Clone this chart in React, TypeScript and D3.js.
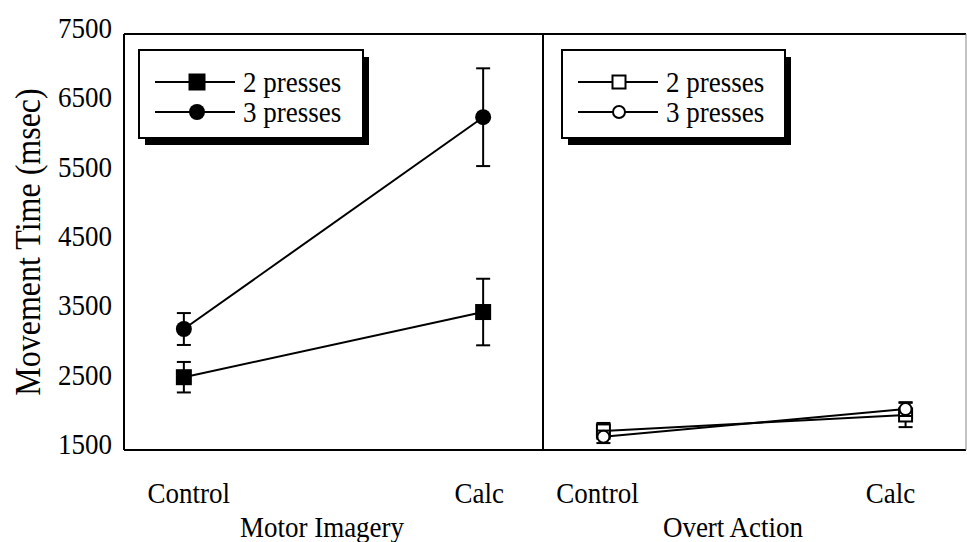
import React from "react";
import * as d3 from "d3";

const categories = ["Control", "Calc"];
const panels = ["Motor Imagery", "Overt Action"];
const seriesNames = ["2 presses", "3 presses"];
const imagery2 = [2550, 3490];
const imagery2Err = [220, 480];
const imagery3 = [3245, 6300];
const imagery3Err = [230, 705];
const overt2 = [1775, 2005];
const overt2Err = [115, 175];
const overt3 = [1690, 2090];
const overt3Err = [90, 100];
const yTicks = [1500, 2500, 3500, 4500, 5500, 6500, 7500];

const W = 967, H = 542;
const left = 124, mid = 543, right = 966, top = 34, bottom = 450;
const FONT = "'Liberation Serif', 'Times New Roman', serif";
const catLabelDx = [[5, -4], [-6, -15]];
const STRETCH = 1.1;

function T(props: { x: number; y: number; size: number; anchor?: string; baseline?: string; rotate?: number; children: any }) {
  const { x, y, size, anchor = "start", baseline, rotate = 0, children } = props;
  return (
    <text transform={`translate(${x},${y}) rotate(${rotate}) scale(1,${STRETCH})`} fontSize={size}
      textAnchor={anchor} dominantBaseline={baseline}>{children}</text>
  );
}

export default function App() {
  const y = d3.scaleLinear().domain([1500, 7500]).range([bottom, top]);
  const xs = [
    d3.scalePoint<string>().domain(categories).range([left, mid]).padding(0.2),
    d3.scalePoint<string>().domain(categories).range([mid, right]).padding(0.2),
  ];
  const data = [
    [{ v: imagery2, e: imagery2Err }, { v: imagery3, e: imagery3Err }],
    [{ v: overt2, e: overt2Err }, { v: overt3, e: overt3Err }],
  ];
  const line = (x: any, vals: number[]) =>
    d3.line<number>().x((_, i) => x(categories[i])!).y((d) => y(d))(vals) || "";

  const marker = (p: number, s: number, cx: number, cy: number, key: string, legend = false) => {
    const filled = p === 0;
    if (s === 0) {
      const sz = filled ? (legend ? 17 : 16) : 13;
      return (
        <rect key={key} x={cx - sz / 2} y={cy - sz / 2} width={sz} height={sz}
          fill={filled ? "#000" : "#fff"} stroke="#000" strokeWidth={filled ? 0 : 2} />
      );
    }
    const r = filled ? 8 : 6;
    return <circle key={key} cx={cx} cy={cy} r={r} fill={filled ? "#000" : "#fff"} stroke="#000" strokeWidth={filled ? 0 : 2} />;
  };

  const legendBoxes = [
    { x: 139, y: 50, w: 224, h: 88, lx1: 155, lx2: 235, mx: 197, tx: 243 },
    { x: 562, y: 50, w: 223, h: 88, lx1: 578, lx2: 658, mx: 619, tx: 666 },
  ];
  const legendRows = [82, 112];

  return (
    <svg width={W} height={H} style={{ position: "absolute", left: 0, top: 0, background: "#fff" }}
      fontFamily={FONT}>
      <rect x={0} y={0} width={W} height={H} fill="#fff" />
      {yTicks.map((t) => (
        <T key={t} x={112} y={y(t) - 6} size={27} anchor="end" baseline="central">{t}</T>
      ))}
      <T x={28} y={(top + bottom) / 2} size={32} anchor="middle" baseline="central" rotate={-90}>Movement Time (msec)</T>

      <line x1={left} x2={right} y1={top} y2={top} stroke="#000" strokeWidth={2} />
      <line x1={left} x2={right} y1={bottom} y2={bottom} stroke="#000" strokeWidth={2} />
      <line x1={left} x2={left} y1={top} y2={bottom} stroke="#000" strokeWidth={2} />
      <line x1={mid} x2={mid} y1={top} y2={bottom} stroke="#000" strokeWidth={2} />
      <line x1={right} x2={right} y1={top} y2={bottom} stroke="#888" strokeWidth={1} />

      {data.map((panel, p) =>
        panel.map((ser, s) => (
          <g key={`${p}-${s}`}>
            <path d={line(xs[p], ser.v)} fill="none" stroke="#000" strokeWidth={2} />
            {ser.v.map((v, i) => {
              const cx = xs[p](categories[i])!;
              const y1 = y(v + ser.e[i]), y2 = y(v - ser.e[i]);
              const cw = 7;
              return (
                <g key={i}>
                  <line x1={cx} x2={cx} y1={y1} y2={y2} stroke="#000" strokeWidth={2} />
                  <line x1={cx - cw} x2={cx + cw} y1={y1} y2={y1} stroke="#000" strokeWidth={2} />
                  <line x1={cx - cw} x2={cx + cw} y1={y2} y2={y2} stroke="#000" strokeWidth={2} />
                </g>
              );
            })}
            {ser.v.map((v, i) => marker(p, s, xs[p](categories[i])!, y(v), `m${i}`))}
          </g>
        ))
      )}

      {legendBoxes.map((b, p) => (
        <g key={`lg${p}`}>
          <rect x={b.x + 6} y={b.y + 7} width={b.w} height={b.h} fill="#000" />
          <rect x={b.x} y={b.y} width={b.w} height={b.h} fill="#fff" stroke="#000" strokeWidth={2} />
          {seriesNames.map((name, s) => (
            <g key={name}>
              <line x1={b.lx1} x2={b.lx2} y1={legendRows[s]} y2={legendRows[s]} stroke="#000" strokeWidth={2} />
              {marker(p, s, b.mx, legendRows[s], `lm${s}`, true)}
              <T x={b.tx} y={legendRows[s]} size={27} baseline="central">{name}</T>
            </g>
          ))}
        </g>
      ))}

      {xs.map((x, p) =>
        categories.map((c, i) => (
          <T key={`${p}${c}`} x={x(c)! + catLabelDx[p][i]} y={503} size={27} anchor="middle">{c}</T>
        ))
      )}
      {panels.map((name, p) => (
        <T key={name} x={p === 0 ? 322 : 733} y={537} size={27} anchor="middle">{name}</T>
      ))}
    </svg>
  );
}
